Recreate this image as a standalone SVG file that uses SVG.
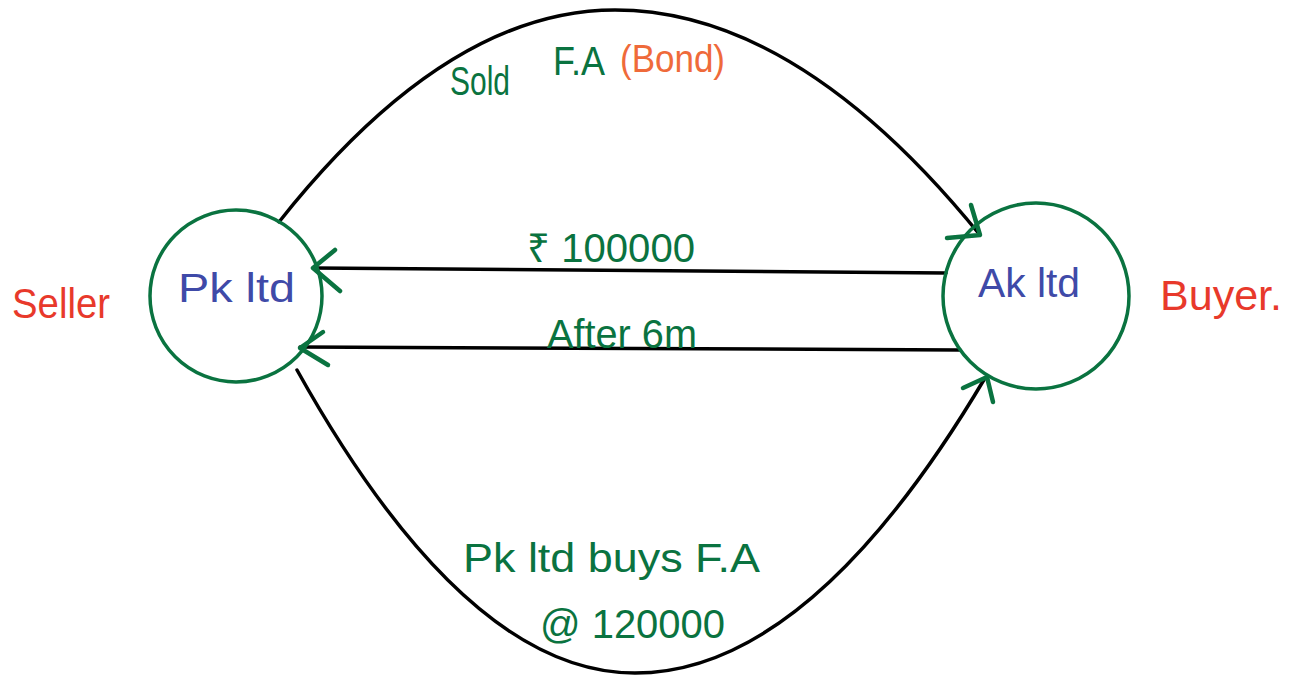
<svg xmlns="http://www.w3.org/2000/svg" width="1289" height="675" viewBox="0 0 1289 675">
<style>
.node{fill:none;stroke:#0a7340;stroke-width:3.5}
.edge{fill:none;stroke:#000;stroke-width:3.5;stroke-linecap:round}
.head{fill:none;stroke:#0a7340;stroke-width:4.5;stroke-linecap:round;stroke-linejoin:round}
text{font-family:"Liberation Sans",Arial,sans-serif}
.blue{fill:#3f4aa8;font-size:40px}
.green{fill:#0a7340;font-size:40px}
.red{fill:#e8392b;font-size:42px}
.orange{fill:#ef6a3a;font-size:38px}
</style>
<rect width="1289" height="675" fill="#fff"/>
<g id="connectors">
<path class="edge" d="M279,222 Q447,10 615,10 Q797,10 980,235"/>
<path class="edge" d="M297,370 Q466,673 635,673 Q810,673 985,378"/>
<path class="edge" d="M946,273 L314,268"/>
<path class="edge" d="M960,350 L300,347"/>
<path class="head" d="M335,250 L313,268 L340,291"/>
<path class="head" d="M323,332 L300,348 L328,365"/>
<path class="head" d="M971,205 L980,235 L947,238"/>
<path class="head" d="M963,388 L987,377 L993,402"/>
</g>
<g id="pk">
<circle class="node" cx="236" cy="296" r="86"/>
<text class="blue" x="178" y="302" textLength="117" lengthAdjust="spacingAndGlyphs">Pk ltd</text>
</g>
<g id="ak">
<circle class="node" cx="1036" cy="296" r="93"/>
<text class="blue" x="978" y="297" textLength="102" lengthAdjust="spacingAndGlyphs">Ak ltd</text>
</g>
<g id="seller">
<text class="red" x="12" y="318" textLength="98" lengthAdjust="spacingAndGlyphs">Seller</text>
</g>
<g id="buyer">
<text class="red" x="1160" y="310" textLength="122" lengthAdjust="spacingAndGlyphs">Buyer.</text>
</g>
<g id="labels">
<text class="green" x="450" y="95" textLength="60" lengthAdjust="spacingAndGlyphs">Sold</text>
<text class="green" x="553" y="75" textLength="52" lengthAdjust="spacingAndGlyphs">F.A</text>
<text class="orange" x="620" y="72" textLength="105" lengthAdjust="spacingAndGlyphs">(Bond)</text>
<text class="green" x="527" y="262" textLength="168" lengthAdjust="spacingAndGlyphs">₹ 100000</text>
<text class="green" x="547" y="348" textLength="150" lengthAdjust="spacingAndGlyphs">After 6m</text>
<text class="green" x="463" y="572" textLength="297" lengthAdjust="spacingAndGlyphs">Pk ltd buys F.A</text>
<text class="green" x="540" y="638" textLength="185" lengthAdjust="spacingAndGlyphs">@ 120000</text>
</g>
</svg>
